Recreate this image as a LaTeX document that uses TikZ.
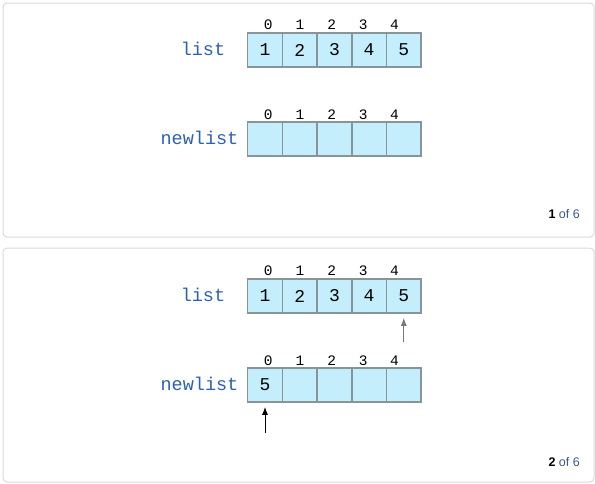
\documentclass[tikz,border=0pt]{standalone}
\usepackage{fontspec}
\usetikzlibrary{arrows.meta}
\setmonofont{Liberation Mono}
\newfontfamily\pagerfont{Liberation Sans}
\newlength{\du}
\setlength{\du}{1pt}
\definecolor{cellfill}{RGB}{196,238,252}
\definecolor{cellline}{RGB}{136,148,152}
\definecolor{namecolor}{RGB}{44,96,180}
\definecolor{pagecolor}{RGB}{60,88,140}
\definecolor{panelline}{RGB}{218,218,218}
\definecolor{readcolor}{RGB}{120,120,120}
\tikzset{
  panel/.style={draw=panelline, line width=1\du, rounded corners=4\du},
  cell/.style={draw=cellline, fill=cellfill, line width=1.6\du, minimum width=34.7\du,
    minimum height=34\du, inner sep=0pt, font=\fontsize{18}{18}\ttfamily},
  idx/.style={inner sep=0pt, font=\fontsize{14.5}{14.5}\ttfamily},
  listname/.style={inner sep=0pt, text=namecolor, font=\fontsize{18.5}{18.5}\ttfamily},
  pager/.style={anchor=east, inner sep=0pt, text=pagecolor, font=\fontsize{12.5}{12.5}\pagerfont},
  ptr/.style={-{Latex[length=8pt,width=6pt]}, line width=1\du, shorten >=4\du}
}
\begin{document}
\begin{tikzpicture}
\pgftransformxscale{1.000000}
\pgftransformyscale{-1.000000}
\useasboundingbox (0\du,0\du) rectangle (595\du,483\du);
% step 1
\draw[panel] (3\du,3\du) rectangle (594\du,237\du);
\node[listname] (nameA) at (203\du,49\du){list};
\node[cell] (listA0) at (265.0\du,50\du){1};
\node[cell] (listA1) at (299.7\du,50\du){2};
\node[cell] (listA2) at (334.4\du,50\du){3};
\node[cell] (listA3) at (369.1\du,50\du){4};
\node[cell] (listA4) at (403.8\du,50\du){5};
\node[idx] (idxA0) at (268.3\du,25\du){0};
\node[idx] (idxA1) at (300.0\du,25\du){1};
\node[idx] (idxA2) at (331.7\du,25\du){2};
\node[idx] (idxA3) at (363.3\du,25\du){3};
\node[idx] (idxA4) at (394.5\du,25\du){4};
\node[listname] (newnameA) at (199.5\du,137.5\du){newlist};
\node[cell] (newA0) at (265.0\du,139\du){};
\node[cell] (newA1) at (299.7\du,139\du){};
\node[cell] (newA2) at (334.4\du,139\du){};
\node[cell] (newA3) at (369.1\du,139\du){};
\node[cell] (newA4) at (403.8\du,139\du){};
\node[idx] (nidxA0) at (268.3\du,115\du){0};
\node[idx] (nidxA1) at (300.0\du,115\du){1};
\node[idx] (nidxA2) at (331.7\du,115\du){2};
\node[idx] (nidxA3) at (363.3\du,115\du){3};
\node[idx] (nidxA4) at (394.5\du,115\du){4};
\node[pager] (pageA) at (580\du,214\du){\textcolor{black}{\textbf{1}} of 6};
% step 2
\draw[panel] (3\du,248\du) rectangle (594\du,482\du);
\node[listname] (nameB) at (203\du,295\du){list};
\node[cell] (listB0) at (265.0\du,296\du){1};
\node[cell] (listB1) at (299.7\du,296\du){2};
\node[cell] (listB2) at (334.4\du,296\du){3};
\node[cell] (listB3) at (369.1\du,296\du){4};
\node[cell] (listB4) at (403.8\du,296\du){5};
\node[idx] (idxB0) at (268.3\du,271\du){0};
\node[idx] (idxB1) at (300.0\du,271\du){1};
\node[idx] (idxB2) at (331.7\du,271\du){2};
\node[idx] (idxB3) at (363.3\du,271\du){3};
\node[idx] (idxB4) at (394.5\du,271\du){4};
\node[listname] (newnameB) at (199.5\du,383.5\du){newlist};
\node[cell] (newB0) at (265.0\du,385\du){5};
\node[cell] (newB1) at (299.7\du,385\du){};
\node[cell] (newB2) at (334.4\du,385\du){};
\node[cell] (newB3) at (369.1\du,385\du){};
\node[cell] (newB4) at (403.8\du,385\du){};
\node[idx] (nidxB0) at (268.3\du,361\du){0};
\node[idx] (nidxB1) at (300.0\du,361\du){1};
\node[idx] (nidxB2) at (331.7\du,361\du){2};
\node[idx] (nidxB3) at (363.3\du,361\du){3};
\node[idx] (nidxB4) at (394.5\du,361\du){4};
\coordinate (readtail) at (403.8\du,342\du);
\coordinate (writetail) at (265.0\du,433\du);
\draw[ptr, draw=readcolor, fill=readcolor] (readtail) -- (listB4.south);
\draw[ptr, black] (writetail) -- (newB0.south);
\node[pager] (pageB) at (580\du,462\du){\textcolor{black}{\textbf{2}} of 6};
\end{tikzpicture}
\end{document}
